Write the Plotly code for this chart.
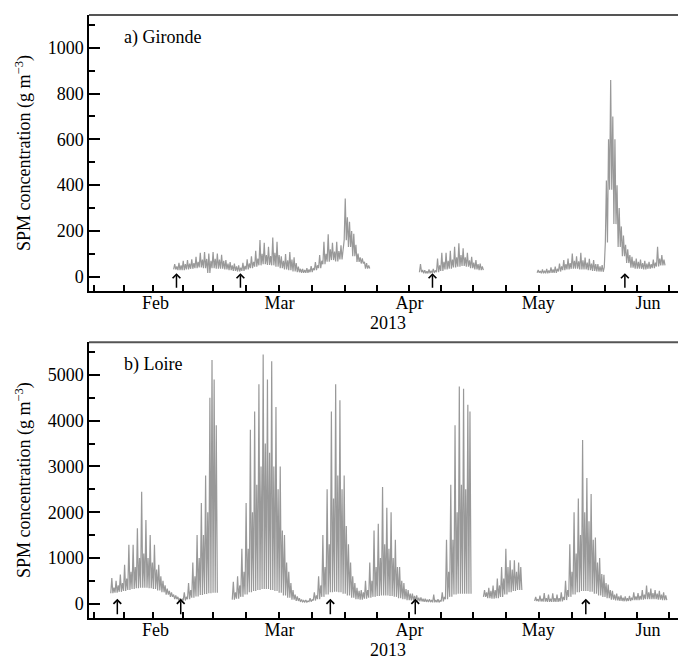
import pandas as pd
import plotly.graph_objects as go

# ---------------- DATA (g m^-3) ----------------
# Each record segment: start time, then one entry per day:
# low water level, first high-tide peak, second high-tide peak.

# a) Gironde
gir_s1_start = "2013-02-19 18:00"
gir_s1_high1 = [55, 61, 70, 73, 76, 87, 105, 108, 102, 108, 102, 96, 73, 64, 58, 50, 61, 76, 90, 113,
                160, 148, 131, 172, 153, 90, 99, 108, 85, 44, 35, 38, 47, 64, 95, 153, 186, 148, 153, 138,
                342, 240, 188, 101, 80, 60]
gir_s1_high2 = [45, 50, 55, 58, 60, 65, 75, 78, 70, 78, 75, 70, 58, 50, 45, 40, 48, 58, 65, 80,
                100, 95, 90, 105, 95, 70, 72, 75, 60, 35, 30, 32, 38, 50, 70, 100, 120, 110, 112, 110,
                260, 200, 140, 85, 65, 50]
gir_s1_low = [32, 29, 29, 32, 35, 38, 41, 38, 17, 38, 35, 35, 32, 29, 26, 23, 26, 32, 38, 44,
              50, 55, 52, 50, 44, 38, 32, 29, 23, 20, 17, 17, 20, 29, 38, 55, 66, 73, 67, 76,
              160, 130, 90, 65, 58, 36]

gir_s2_start = "2013-04-18 09:30"
gir_s2_high1 = [55, 29, 32, 35, 80, 105, 105, 113, 131, 146, 124, 105, 87, 73, 58]
gir_s2_high2 = [30, 24, 26, 28, 50, 65, 70, 75, 85, 95, 85, 72, 62, 55, 45]
gir_s2_low = [20, 15, 15, 17, 20, 26, 32, 35, 41, 44, 47, 44, 38, 32, 29]

gir_s3_start = "2013-05-16 00:00"
gir_s3_high1 = [30, 32, 35, 41, 44, 58, 73, 80, 102, 90, 105, 84, 78, 73, 55, 51,
                420, 859, 600, 300, 180, 120, 87, 80, 75, 70, 65, 75, 131, 95]
gir_s3_high2 = [25, 26, 28, 32, 35, 45, 55, 60, 70, 68, 72, 62, 58, 55, 45, 42,
                600, 700, 400, 220, 140, 95, 70, 65, 60, 58, 55, 62, 80, 75]
gir_s3_low = [18, 15, 15, 17, 17, 23, 29, 32, 35, 35, 32, 32, 29, 26, 23, 22,
              150, 380, 230, 130, 90, 60, 40, 35, 35, 32, 35, 38, 45, 50]

# b) Loire
loi_s1_start = "2013-02-05 00:00"
loi_s1_high1 = [560, 500, 640, 850, 1290, 1290, 1650, 2450, 1830, 1500, 1290, 850, 500, 330, 250,
                180, 120, 250, 450, 900, 1500, 2200, 2800, 4500, 4900]
loi_s1_high2 = [350, 400, 450, 550, 700, 800, 1000, 1100, 1000, 900, 750, 600, 400, 280, 200,
                150, 100, 150, 300, 600, 1000, 1500, 2000, 5330, 3900]
loi_s1_low = [230, 240, 260, 280, 300, 320, 340, 350, 350, 340, 320, 290, 250, 200, 150,
              100, 65, 70, 100, 130, 160, 190, 210, 230, 240]

loi_s2_start = "2013-03-05 12:00"
loi_s2_high1 = [480, 600, 1200, 2200, 3800, 4200, 4800, 5450, 4900, 5300, 4300, 3000, 1500, 700, 300,
                160, 90, 80, 120, 250, 600, 1500, 2500, 4200, 4800, 4450, 2800, 1300, 600, 350,
                300, 500, 900, 1600, 1750, 2550, 2100, 2000, 1400, 800, 450, 300, 220, 180, 140,
                110, 100, 200, 100, 250, 1400, 2600, 3900, 4750, 4700, 4350]
loi_s2_high2 = [250, 400, 700, 1200, 2000, 2600, 3000, 3500, 3300, 3000, 2500, 1600, 900, 450, 200,
                120, 70, 60, 90, 180, 400, 800, 1300, 2300, 2800, 2500, 1700, 900, 450, 280,
                250, 300, 500, 800, 1000, 1300, 1200, 1000, 800, 500, 320, 220, 170, 130, 110,
                90, 80, 80, 70, 150, 700, 1400, 2000, 2600, 2500, 4200]
loi_s2_low = [90, 110, 150, 200, 250, 280, 300, 320, 320, 300, 280, 240, 180, 130, 90,
              60, 40, 35, 45, 70, 100, 150, 200, 250, 260, 250, 220, 180, 130, 100,
              90, 110, 130, 150, 170, 180, 180, 170, 150, 120, 100, 80, 70, 60, 50,
              40, 35, 30, 30, 50, 100, 150, 200, 220, 220, 220]

loi_s3_start = "2013-05-03 10:00"
loi_s3_high1 = [300, 350, 400, 550, 800, 1200, 950, 950, 900]
loi_s3_high2 = [250, 280, 300, 400, 550, 800, 750, 700, 800]
loi_s3_low = [150, 120, 110, 120, 150, 200, 250, 280, 300]

loi_s4_start = "2013-05-15 10:00"
loi_s4_high1 = [150, 180, 230, 200, 230, 200, 250, 500, 1300, 2000, 2300, 3580, 2750, 2400, 1450,
                1000, 630, 420, 280, 220, 180, 160, 170, 250, 230, 300, 400, 330, 300, 280, 250]
loi_s4_high2 = [100, 110, 120, 110, 120, 120, 150, 300, 700, 1100, 1500, 2000, 1800, 1400, 900,
                650, 450, 300, 200, 160, 130, 120, 130, 160, 170, 200, 250, 230, 220, 200, 180]
loi_s4_low = [60, 50, 45, 40, 40, 40, 50, 80, 150, 200, 250, 280, 280, 260, 220,
              180, 150, 120, 90, 70, 60, 55, 60, 80, 80, 90, 100, 100, 100, 90, 80]

# arrows (dates) marked under each panel
gir_arrow_dates = ["2013-02-20 10:00", "2013-03-07 10:00", "2013-04-21 11:00", "2013-06-05 14:00"]
loi_arrow_dates = ["2013-02-06 13:00", "2013-02-21 10:00", "2013-03-28 12:00",
                   "2013-04-17 10:00", "2013-05-27 10:00"]

month_names = ["Feb", "Mar", "Apr", "May", "Jun"]
month_label_pos = ["2013-02-15 12:00", "2013-03-16 14:00", "2013-04-16 02:00",
                   "2013-05-16 06:00", "2013-06-11 00:00"]
gir_yticks = [0, 200, 400, 600, 800, 1000]
loi_yticks = [0, 1000, 2000, 3000, 4000, 5000]

# ---------------- helpers ----------------
def build(segments):
    xs, ys = [], []
    for start, h1, h2, lo in segments:
        t0 = pd.Timestamp(start)
        for i in range(len(lo)):
            base = t0 + pd.Timedelta(days=i)
            for frac, v in ((0.0, lo[i]), (0.25, h1[i]), (0.5, lo[i]), (0.75, h2[i])):
                xs.append((base + pd.Timedelta(days=frac)).strftime("%Y-%m-%d %H:%M"))
                ys.append(v)
        xs.append((t0 + pd.Timedelta(days=len(lo))).strftime("%Y-%m-%d %H:%M"))
        ys.append(lo[-1])
        xs.append(None)
        ys.append(None)
    return xs, ys

gx, gy = build([(gir_s1_start, gir_s1_high1, gir_s1_high2, gir_s1_low),
                (gir_s2_start, gir_s2_high1, gir_s2_high2, gir_s2_low),
                (gir_s3_start, gir_s3_high1, gir_s3_high2, gir_s3_low)])
lx, ly = build([(loi_s1_start, loi_s1_high1, loi_s1_high2, loi_s1_low),
                (loi_s2_start, loi_s2_high1, loi_s2_high2, loi_s2_low),
                (loi_s3_start, loi_s3_high1, loi_s3_high2, loi_s3_low),
                (loi_s4_start, loi_s4_high1, loi_s4_high2, loi_s4_low)])

month_starts = pd.date_range("2013-02-01", "2013-07-01", freq="MS")
quarter_ticks = []
for a, b in zip(month_starts[:-1], month_starts[1:]):
    step = (b - a) / 4
    for k in range(4):
        quarter_ticks.append((a + k * step).strftime("%Y-%m-%d %H:%M"))
month_tick_vals = [m.strftime("%Y-%m-%d") for m in month_starts[:-1]]

x_range = ["2013-01-30 21:36", "2013-06-18 01:00"]
FONT = dict(family="Liberation Serif, Times New Roman, serif", size=18, color="black")
LINE = "#999999"

fig = go.Figure()
fig.add_trace(go.Scatter(x=gx, y=gy, mode="lines", line=dict(color=LINE, width=1.2),
                         connectgaps=False, xaxis="x", yaxis="y", hoverinfo="skip"))
fig.add_trace(go.Scatter(x=lx, y=ly, mode="lines", line=dict(color=LINE, width=1.2),
                         connectgaps=False, xaxis="x2", yaxis="y2", hoverinfo="skip"))

def main_x(anchor):
    return dict(type="date", range=x_range, anchor=anchor, showgrid=False, zeroline=False,
                showline=True, linecolor="black", linewidth=1.5,
                tickmode="array", tickvals=month_label_pos, ticktext=month_names, ticks="",
                tickfont=FONT, automargin=False, ticklabelstandoff=-5,
                minor=dict(tickmode="array", tickvals=quarter_ticks, ticks="inside",
                           ticklen=6, tickwidth=1.5, tickcolor="black"))

def month_x(over, anchor):
    return dict(type="date", range=x_range, overlaying=over, anchor=anchor, side="bottom",
                showgrid=False, zeroline=False, showline=False, showticklabels=False,
                tickmode="array", tickvals=month_tick_vals, ticks="outside", ticklen=12,
                tickwidth=1.5, tickcolor="black", automargin=False)

def main_y(dom, rng, vals, minor_dtick, anchor):
    return dict(domain=dom, range=rng, anchor=anchor, showgrid=False, zeroline=False,
                showline=True, linecolor="black", linewidth=1.5,
                tickmode="array", tickvals=vals, ticks="inside", ticklen=11, tickwidth=1.5,
                tickcolor="black", tickfont=FONT, automargin=False,
                minor=dict(tickmode="linear", tick0=0, dtick=minor_dtick, ticks="inside",
                           ticklen=6, tickwidth=1.5, tickcolor="black"),
                title=dict(text="SPM concentration (g m<sup>−3</sup>)", font=FONT, standoff=12))

def stub_y(over, rng, vals, anchor):
    return dict(range=rng, overlaying=over, anchor=anchor, side="left", showgrid=False,
                zeroline=False, showline=False, showticklabels=False,
                tickmode="array", tickvals=vals, ticks="outside", ticklen=5, tickwidth=1.5,
                tickcolor="black", automargin=False)

top_dom = [0.5423, 1.0]
bot_dom = [0.0, 0.4572]
g_rng = [-62, 1143]
l_rng = [-312, 5714]

fig.update_layout(
    template="none",
    width=678, height=659,
    margin=dict(l=89, r=0, t=15, b=41),
    paper_bgcolor="white", plot_bgcolor="white",
    showlegend=False,
    font=FONT,
    xaxis=main_x("y"),
    xaxis2=main_x("y2"),
    xaxis3=month_x("x", "y"),
    xaxis4=month_x("x2", "y2"),
    yaxis=main_y(top_dom, g_rng, gir_yticks, 100, "x"),
    yaxis2=main_y(bot_dom, l_rng, loi_yticks, 500, "x2"),
    yaxis3=stub_y("y", g_rng, gir_yticks, "x"),
    yaxis4=stub_y("y2", l_rng, loi_yticks, "x2"),
)

# panel top borders
for xr, yr in (("x", "y"), ("x2", "y2")):
    fig.add_shape(type="line", xref=f"{xr} domain", yref=f"{yr} domain",
                  x0=0, x1=1, y0=1, y1=1, line=dict(color="#555555", width=2))

ann = []
ann.append(dict(text="a) Gironde", xref="paper", yref="paper", x=0.056, y=0.9619,
                xanchor="left", yanchor="middle", showarrow=False, font=FONT))
ann.append(dict(text="b) Loire", xref="paper", yref="paper", x=0.056, y=0.4196,
                xanchor="left", yanchor="middle", showarrow=False, font=FONT))
ann.append(dict(text="2013", xref="paper", yref="paper", x=0.5076, y=0.4897,
                xanchor="center", yanchor="middle", showarrow=False, font=FONT))
ann.append(dict(text="2013", xref="paper", yref="paper", x=0.5076, y=-0.053,
                xanchor="center", yanchor="middle", showarrow=False, font=FONT))
for d in gir_arrow_dates:
    ann.append(dict(x=d, y=16, xref="x", yref="y", ax=0, ay=16, text="", showarrow=True,
                    arrowhead=4, arrowsize=1, arrowwidth=1.5, arrowcolor="black", standoff=0))
for d in loi_arrow_dates:
    ann.append(dict(x=d, y=109, xref="x2", yref="y2", ax=0, ay=17, text="", showarrow=True,
                    arrowhead=4, arrowsize=1, arrowwidth=1.5, arrowcolor="black", standoff=0))
fig.update_layout(annotations=ann)

# the page body default margin would shift the figure; remove it
fig.write_html("out.html", config={"displayModeBar": False},
               post_script="document.body.style.margin='0';")
